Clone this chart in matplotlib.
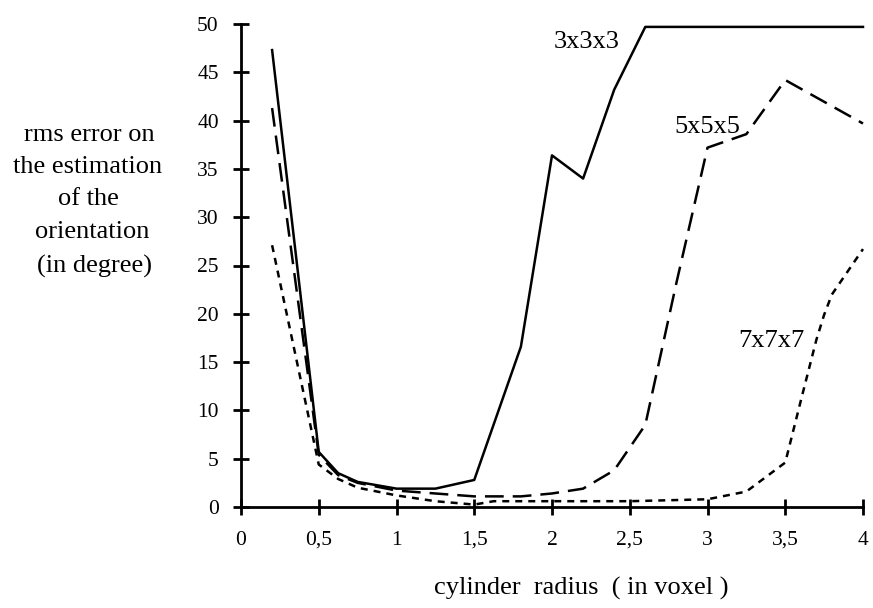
import matplotlib
matplotlib.use("Agg")
import matplotlib.pyplot as plt

# ---- data ----
x_3 = [0.2, 0.5, 0.625, 0.75, 1.0, 1.25, 1.5, 1.8, 2.0, 2.2, 2.4, 2.6, 3.0, 3.5, 4.0]
y_3 = [47.3, 5.7, 3.5, 2.6, 1.9, 1.9, 2.8, 16.6, 36.4, 34.0, 43.2, 49.7, 49.7, 49.7, 49.7]

x_5 = [0.2, 0.5, 0.625, 0.75, 1.0, 1.25, 1.5, 1.8, 2.0, 2.2, 2.4, 2.6, 2.8, 3.0, 3.25, 3.5, 4.0]
y_5 = [41.3, 5.4, 3.3, 2.5, 1.7, 1.4, 1.1, 1.1, 1.4, 1.9, 3.8, 8.5, 23.2, 37.2, 38.6, 44.2, 39.7]

x_7 = [0.2, 0.5, 0.625, 0.75, 1.0, 1.25, 1.5, 1.625, 2.0, 2.5, 3.0, 3.25, 3.5, 3.6, 3.7, 3.75, 3.8, 4.0]
y_7 = [27.1, 4.4, 2.9, 2.0, 1.2, 0.6, 0.25, 0.6, 0.6, 0.6, 0.8, 1.6, 4.6, 11.0, 17.3, 19.9, 22.0, 26.7]

series_labels = ["3x3x3", "5x5x5", "7x7x7"]
x_ticks = [0, 0.5, 1, 1.5, 2, 2.5, 3, 3.5, 4]
x_tick_labels = ["0", "0,5", "1", "1,5", "2", "2,5", "3", "3,5", "4"]
y_ticks = [0, 5, 10, 15, 20, 25, 30, 35, 40, 45, 50]
y_label_lines = ["rms error on", "the estimation", "of the", "orientation", "(in degree)"]
x_label = "cylinder  radius  ( in voxel )"

# ---- figure ----
W, H = 873, 608
fig = plt.figure(figsize=(W / 100, H / 100), dpi=100)
plt.rcParams['font.family'] = ['Liberation Serif', 'DejaVu Serif']

ax = fig.add_axes([241 / W, 1 - 507 / H, (863 - 241) / W, (507 - 24) / H])
ax.set_xlim(0, 4)
ax.set_ylim(0, 50)

lw = 1.8
ax.plot(x_3, y_3, color='black', lw=lw, linestyle='-', clip_on=False)
ax.plot(x_5, y_5, color='black', lw=lw, linestyle=(0, (7.5, 3.6)), clip_on=False)
ax.plot(x_7, y_7, color='black', lw=lw, linestyle=(0, (2.8, 2.4)), clip_on=False)

for s in ['top', 'right']:
    ax.spines[s].set_visible(False)
for s in ['left', 'bottom']:
    ax.spines[s].set_linewidth(2.0)
    ax.spines[s].set_color('black')

ax.set_xticks(x_ticks)
ax.set_xticklabels(x_tick_labels)
ax.set_yticks(y_ticks)
ax.tick_params(axis='both', direction='inout', length=12, width=2.0,
               labelsize=15.5, colors='black')
ax.tick_params(axis='x', pad=11)
ax.tick_params(axis='y', pad=10)

# series labels
ax.text(2.225, 48.1, series_labels[0], fontsize=19, ha='center', va='center')
ax.text(2.997, 39.3, series_labels[1], fontsize=19, ha='center', va='center')
ax.text(3.41, 17.2, series_labels[2], fontsize=19, ha='center', va='center')

# y label (horizontal, multi-line)
ylab_x = [89, 88, 88, 92.5, 94.5]
ylab_base = [141, 173, 205, 238, 273]
for t, xx, yy in zip(y_label_lines, ylab_x, ylab_base):
    fig.text(xx / W, 1 - yy / H, t, fontsize=19, ha='center', va='baseline')

# x label
fig.text(581 / W, 1 - 595 / H, x_label, fontsize=19, ha='center', va='baseline')

fig.savefig("out.png", dpi=100)
